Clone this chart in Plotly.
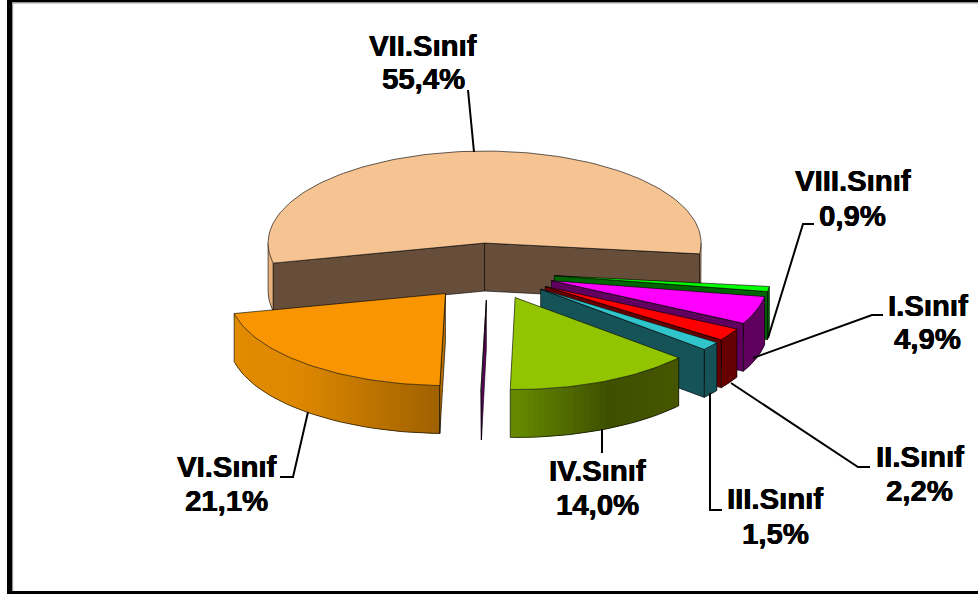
import math
import plotly.graph_objects as go

# data, clockwise from the first slice
categories = ["VII.Sınıf", "VIII.Sınıf", "I.Sınıf", "II.Sınıf", "III.Sınıf", "IV.Sınıf", "V.Sınıf", "VI.Sınıf"]
values = [55.4, 0.9, 4.9, 2.2, 1.5, 14.0, 0.05, 21.1]

# styles per slice
top_colors = ["#F6C492", "#00FF00", "#FF00FF", "#FF0000", "#30C5CB", "#92C400", "#7A007A", "#F89500"]
cut_colors = ["#674E3A", "#006400", "#5F005F", "#660000", "#165358", "#465600", "#5F005F", "#B87000"]
outer_stops = [
    [(0, "#E8B27E"), (1, "#E8B27E")],
    [(0, "#006400"), (1, "#006400")],
    [(0, "#5F005F"), (1, "#5F005F")],
    [(0, "#660000"), (1, "#660000")],
    [(0, "#165358"), (1, "#165358")],
    [(0, "#668A00"), (0.55, "#3E5000"), (1, "#475600")],
    [(0, "#5F005F"), (1, "#5F005F")],
    [(0, "#E18B00"), (0.3, "#DD8800"), (1, "#9C5F00")],
]

# 3D projection geometry (pixels)
CX, CY = 488.0, 271.5
RX = 216.5
TILT = 0.425
EXPLODE = 67.0
DEPTH = 48.0
START = 257.4
EDGE = "rgba(0,0,0,0.62)"

# label layout: category index -> centre x, baseline of name, baseline of percentage
label_layout = {
    0: (423, 56, 89),
    1: (852.5, 191, 226),
    2: (927.5, 316, 349),
    3: (919.5, 467, 501),
    4: (775, 509, 544),
    5: (597.5, 481, 515),
    7: (226.5, 477, 511),
}
leaders = [
    [(468, 90), (474, 152)],
    [(814, 224), (803, 224), (768, 338)],
    [(883, 315), (872, 315), (753, 358)],
    [(870, 467), (858, 467), (731, 383)],
    [(722, 510), (710, 510), (710, 393)],
    [(602, 429), (602, 453)],
    [(280, 477), (293, 477), (308, 412)],
]
FONT = "Liberation Sans, Arial, sans-serif"
FONT_SIZE = 29.3
STEP = 1.5


def hex2rgb(h):
    return tuple(int(h[i:i + 2], 16) for i in (1, 3, 5))


def stop_color(stops, t):
    for (t0, c0), (t1, c1) in zip(stops, stops[1:]):
        if t <= t1:
            f = 0 if t1 == t0 else (t - t0) / (t1 - t0)
            a, b = hex2rgb(c0), hex2rgb(c1)
            return "rgb(%d,%d,%d)" % tuple(round(a[i] + (b[i] - a[i]) * f) for i in range(3))
    return stops[-1][1]


def project(angle, radius, ox, oy, z=0.0):
    r = math.radians(angle)
    return ox + radius * math.sin(r), oy - radius * math.cos(r) * TILT + z


def polygon(points, fill, line=None, width=1.0):
    xs = [p[0] for p in points] + [points[0][0]]
    ys = [p[1] for p in points] + [points[0][1]]
    return go.Scatter(
        x=xs, y=ys, mode="lines", fill="toself", fillcolor=fill,
        line=dict(color=line or fill, width=width), hoverinfo="skip", showlegend=False,
    )


def polyline(points, color, width):
    return go.Scatter(x=[p[0] for p in points], y=[p[1] for p in points], mode="lines",
                      line=dict(color=color, width=width), hoverinfo="skip", showlegend=False)


fig = go.Figure()
total = sum(values)
a0 = START
for i, v in enumerate(values):
    a1 = a0 + v / total * 360
    mid = math.radians((a0 + a1) / 2)
    ox = CX + EXPLODE * math.sin(mid)
    oy = CY - EXPLODE * math.cos(mid) * TILT

    # outer wall: only the parts on the viewer's side (angles 90..270), as continuous runs
    runs = []
    for off in (0, 360, -360):
        lo, hi = max(a0 + off, 90), min(a1 + off, 270)
        if hi > lo:
            runs.append((lo, hi))
    for lo, hi in runs:
        n = max(1, int((hi - lo) / STEP))
        ang = [lo + (hi - lo) * k / n for k in range(n + 1)]
        xs = [project(a, RX, ox, oy)[0] for a in ang]
        xmin, xmax = min(xs), max(xs)
        for k in range(n):
            # each piece reaches back over the previous one so that no seam shows
            back = ang[max(k - 1, 0)]
            pts = [project(back, RX, ox, oy), project(ang[k + 1], RX, ox, oy),
                   project(ang[k + 1], RX, ox, oy, DEPTH), project(back, RX, ox, oy, DEPTH)]
            xm = (xs[k] + xs[k + 1]) / 2
            t = (xm - xmin) / (xmax - xmin) if xmax > xmin else 0
            fig.add_trace(polygon(pts, stop_color(outer_stops[i], t), width=0))
        rim = [project(a, RX, ox, oy, DEPTH) for a in ang]
        # lower rim and both vertical ends of this run
        fig.add_trace(polyline([project(lo, RX, ox, oy)] + rim + [project(hi, RX, ox, oy)], EDGE, 1))

    # radial cut walls that face the viewer
    for edge_angle, normal in ((a0, a0 - 90), (a1, a1 + 90)):
        if math.cos(math.radians(normal)) < 0:
            c = project(edge_angle, RX, ox, oy)
            pts = [(ox, oy), c, (c[0], c[1] + DEPTH), (ox, oy + DEPTH)]
            fig.add_trace(polygon(pts, cut_colors[i], EDGE, 1))

    # top face
    n = max(2, int((a1 - a0) / STEP))
    arc = [project(a0 + (a1 - a0) * k / n, RX, ox, oy) for k in range(n + 1)]
    fig.add_trace(polygon([(ox, oy)] + arc, top_colors[i], EDGE, 1))
    a0 = a1

# leader lines
for pts in leaders:
    fig.add_trace(polyline(pts, "#000000", 2))

# labels
for i, (cx, b1, b2) in label_layout.items():
    pct = f"{values[i]:.1f}".replace(".", ",") + "%"
    for text, base in ((categories[i], b1), (pct, b2)):
        fig.add_annotation(x=cx, y=base - 10.5, text=f"<b>{text}</b>", showarrow=False,
                           xanchor="center", yanchor="middle",
                           font=dict(family=FONT, size=FONT_SIZE, color="#000000",
                                     shadow="0.4px 0 0 #000, -0.3px 0 0 #000"))

# picture frame
frame = [
    (7, 0, 12, 594, "#000000"), (12, 2, 978, 3.5, "#9A9A9A"), (12, 3, 13.2, 591, "#9A9A9A"),
    (7, 0, 978, 2, "#000000"), (7, 591, 978, 594, "#000000"),
]
shapes = [dict(type="rect", xref="x", yref="y", x0=a, y0=b, x1=c, y1=d,
               fillcolor=col, line=dict(width=0), layer="above") for a, b, c, d, col in frame]

fig.update_layout(
    width=978, height=594, autosize=False,
    margin=dict(l=0, r=0, t=0, b=0),
    paper_bgcolor="#FFFFFF", plot_bgcolor="#FFFFFF",
    xaxis=dict(range=[0, 978], visible=False, fixedrange=True),
    yaxis=dict(range=[594, 0], visible=False, fixedrange=True),
    shapes=shapes, showlegend=False,
)
fig.write_html("out.html", config={"displayModeBar": False},
               post_script="document.body.style.margin='0';document.body.style.overflow='hidden';")
